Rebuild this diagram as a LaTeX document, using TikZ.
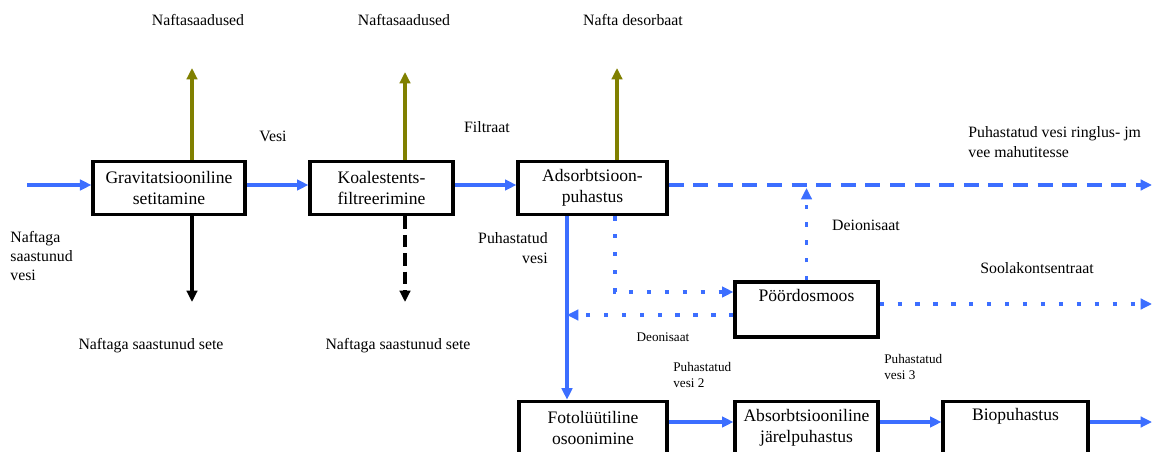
\documentclass[tikz,border=0pt]{standalone}
\usepackage{fontspec}
\setmainfont{Liberation Serif}
\usetikzlibrary{arrows.meta}
\definecolor{azul}{RGB}{60,110,255}
\definecolor{oliva}{RGB}{128,128,0}
\tikzset{
    caja/.style={draw, line width=1.8pt, minimum height=1.07cm, align=center, font=\fontsize{10}{12}\selectfont, inner sep=1pt},
    etiq/.style={font=\fontsize{9}{11}\selectfont, align=left, inner sep=0pt},
    etiqp/.style={font=\fontsize{7.5}{9}\selectfont, align=left, inner sep=0pt},
    flujo/.style={line width=2.2pt, azul, -{Triangle[length=6.5pt,width=6pt]}},
    guiones/.style={flujo, dash pattern=on 8.5pt off 5.5pt},
    puntos/.style={flujo, dash pattern=on 2.4pt off 7.8pt},
    subida/.style={line width=2.2pt, oliva, -{Triangle[length=6.5pt,width=6pt]}},
    bajada/.style={line width=2.2pt, black, -{Triangle[length=6.5pt,width=6pt]}}
}
\begin{document}
\begin{tikzpicture}
            \useasboundingbox (0,0) rectangle (23.04,-9.04);

            % Cajas de la linea principal
            \node (grav) at (3.38,-3.76) [caja, minimum width=3.04cm] {Gravitatsiooniline\\setitamine};
            \node (koal) at (7.63,-3.76) [caja, minimum width=2.86cm] {Koalestents-\\filtreerimine};
            \node (adso) at (11.85,-3.76) [caja, minimum width=2.98cm] {Adsorbtsioon-\\puhastus};
            \node (osmo) at (16.13,-6.19) [caja, minimum width=2.86cm, minimum height=1.1cm] {Pöördosmoos\\\strut};

            % Cajas de abajo (cortadas por el borde)
            \node (foto) at (11.86,-8.56) [caja, minimum width=2.96cm] {Fotolüütiline\\osoonimine};
            \node (abso) at (16.13,-8.56) [caja, minimum width=2.86cm] {Absorbtsiooniline\\järelpuhastus};
            \node (biop) at (20.31,-8.56) [caja, minimum width=2.90cm] {Biopuhastus\\\strut};

            % Puntos libres de las flechas
            \coordinate (entra) at (0.54,-3.70);
            \coordinate (arr1) at (3.84,-1.36);
            \coordinate (arr2) at (8.10,-1.44);
            \coordinate (arr3) at (12.34,-1.36);
            \coordinate (aba1) at (3.84,-6.04);
            \coordinate (aba2) at (8.10,-6.04);
            \coordinate (sale1) at (23.04,-3.70);
            \coordinate (sale2) at (23.04,-6.08);
            \coordinate (sale3) at (23.04,-8.44);
            \coordinate (ro) at (12.30,-5.84);
            \coordinate (vuelta) at (11.34,-6.30);

            % Flechas azules
            \draw[flujo] (entra) -- (grav.west |- entra);
            \draw[flujo] (grav.east |- entra) -- (koal.west |- entra);
            \draw[flujo] (koal.east |- entra) -- (adso.west |- entra);
            \draw[guiones] (adso.east |- entra) -- (sale1);
            \draw[flujo] (adso.south -| vuelta) -- (foto.north -| vuelta);
            \draw[flujo] (foto.east |- sale3) -- (abso.west |- sale3);
            \draw[flujo] (abso.east |- sale3) -- (biop.west |- sale3);
            \draw[flujo] (biop.east |- sale3) -- (sale3);

            % Flechas punteadas de la osmosis
            \draw[puntos] (adso.south -| ro) -- (ro) -- (osmo.west |- ro);
            \draw[puntos] (osmo.west |- vuelta) -- (vuelta);
            \draw[puntos] (osmo.north) -- ([yshift=-0.06cm]osmo.north |- entra);
            \draw[puntos] (osmo.east |- sale2) -- (sale2);

            % Flechas de arriba y de abajo
            \draw[subida] (grav.north -| arr1) -- (arr1);
            \draw[subida] (koal.north -| arr2) -- (arr2);
            \draw[subida] (adso.north -| arr3) -- (arr3);
            \draw[bajada] (grav.south -| aba1) -- (aba1);
            \draw[bajada, dash pattern=on 7pt off 3.5pt] (koal.south -| aba2) -- (aba2);

            % Etiquetas
            \node (t1) at (3.96,-0.40) [etiq] {Naftasaadused};
            \node (t2) at (8.08,-0.40) [etiq] {Naftasaadused};
            \node (t3) at (12.66,-0.40) [etiq] {Nafta desorbaat};
            \node (vesi) at (5.46,-2.72) [etiq] {Vesi};
            \node (filt) at (9.74,-2.54) [etiq] {Filtraat};
            \node (ring) at (19.36,-2.84) [etiq, anchor=west] {Puhastatud vesi ringlus- jm\\vee mahutitesse};
            \node (deio) at (17.32,-4.50) [etiq] {Deionisaat};
            \node (sool) at (20.74,-5.36) [etiq] {Soolakontsentraat};
            \node (sisse) at (0.20,-5.12) [etiq, anchor=west] {Naftaga\\saastunud\\vesi};
            \node (puhv) at (10.96,-4.96) [etiq, anchor=east, align=right] {Puhastatud\\vesi};
            \node (sete1) at (3.02,-6.92) [etiq] {Naftaga saastunud sete};
            \node (sete2) at (7.96,-6.92) [etiq] {Naftaga saastunud sete};

            % Etiquetas pequeñas
            \node (deon) at (13.26,-6.74) [etiqp] {Deonisaat};
            \node (pv2) at (13.46,-7.50) [etiqp, anchor=west] {Puhastatud\\vesi 2};
            \node (pv3) at (17.68,-7.34) [etiqp, anchor=west] {Puhastatud\\vesi 3};

        \end{tikzpicture}
\end{document}
